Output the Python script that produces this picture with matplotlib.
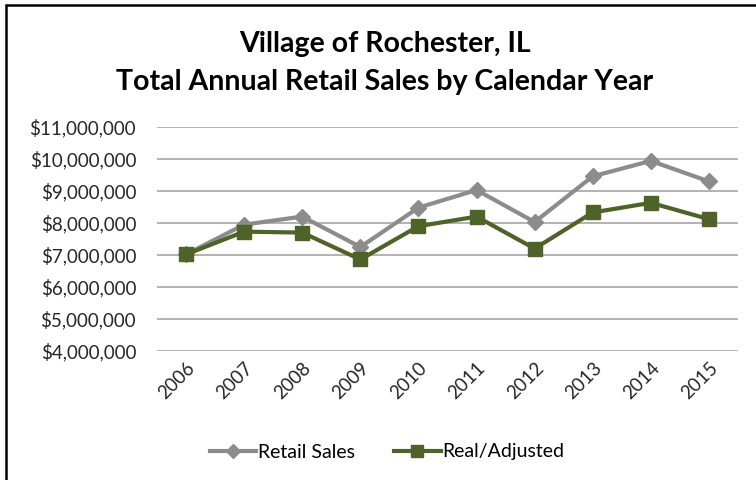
import matplotlib
matplotlib.use("Agg")
import matplotlib.pyplot as plt
from matplotlib.ticker import FuncFormatter
from matplotlib.patches import Rectangle

years = ["2006", "2007", "2008", "2009", "2010", "2011", "2012", "2013", "2014", "2015"]
retail_sales = [7.02e6, 7.95e6, 8.20e6, 7.25e6, 8.48e6, 9.03e6, 8.03e6, 9.46e6, 9.94e6, 9.30e6]
real_adjusted = [7.02e6, 7.73e6, 7.70e6, 6.86e6, 7.90e6, 8.20e6, 7.20e6, 8.33e6, 8.63e6, 8.12e6]
y_ticks = [4e6, 5e6, 6e6, 7e6, 8e6, 9e6, 10e6, 11e6]

plt.rcParams['font.family'] = ['Lato', 'DejaVu Sans']

fig = plt.figure(figsize=(7.56, 4.8), dpi=100)
ax = fig.add_axes([157/756, 1 - 351/480, (738-157)/756, (351-127)/480])

x = range(len(years))
ax.plot(x, retail_sales, color='#8C8C8C', lw=3, marker='D', ms=8.5, label='Retail Sales', zorder=3)
ax.plot(x, real_adjusted, color='#4F6228', lw=3, marker='s', ms=9.5, label='Real/Adjusted', zorder=4)

ax.set_xlim(-0.5, len(years) - 0.5)
ax.set_ylim(4e6, 11e6)
ax.set_yticks(y_ticks)
ax.yaxis.set_major_formatter(FuncFormatter(lambda v, p: "${:,.0f}".format(v)))
ax.set_xticks(list(x))
ax.set_xticklabels(years, rotation=45, ha='right', va='top', rotation_mode='anchor')
ax.grid(axis='y', color='#A6A6A6', lw=1.2)
ax.set_axisbelow(True)
for s in ax.spines.values():
    s.set_visible(False)
ax.tick_params(axis='both', length=0, labelsize=13.5, colors='#262626')
ax.tick_params(axis='y', pad=15)
ax.tick_params(axis='x', pad=6)

fig.text(0.509, 1 - 44/480, "Village of Rochester, IL", ha='center', va='center', fontsize=20.5, fontweight='bold', color='black')
fig.text(0.509, 1 - 82/480, "Total Annual Retail Sales by Calendar Year", ha='center', va='center', fontsize=20.5, fontweight='bold', color='black')

leg = fig.legend(loc='center', bbox_to_anchor=(0.512, 1 - 452/480), ncol=2, frameon=False,
                 fontsize=14, handlelength=2.4, columnspacing=2.0, handletextpad=0.1, markerscale=0.85)

fig.patches.append(Rectangle((6/756, -0.1), 1.1, 1 - 5/480 + 0.1, transform=fig.transFigure,
                             fill=False, edgecolor='black', lw=1.8))

fig.savefig("out.png", dpi=100)
